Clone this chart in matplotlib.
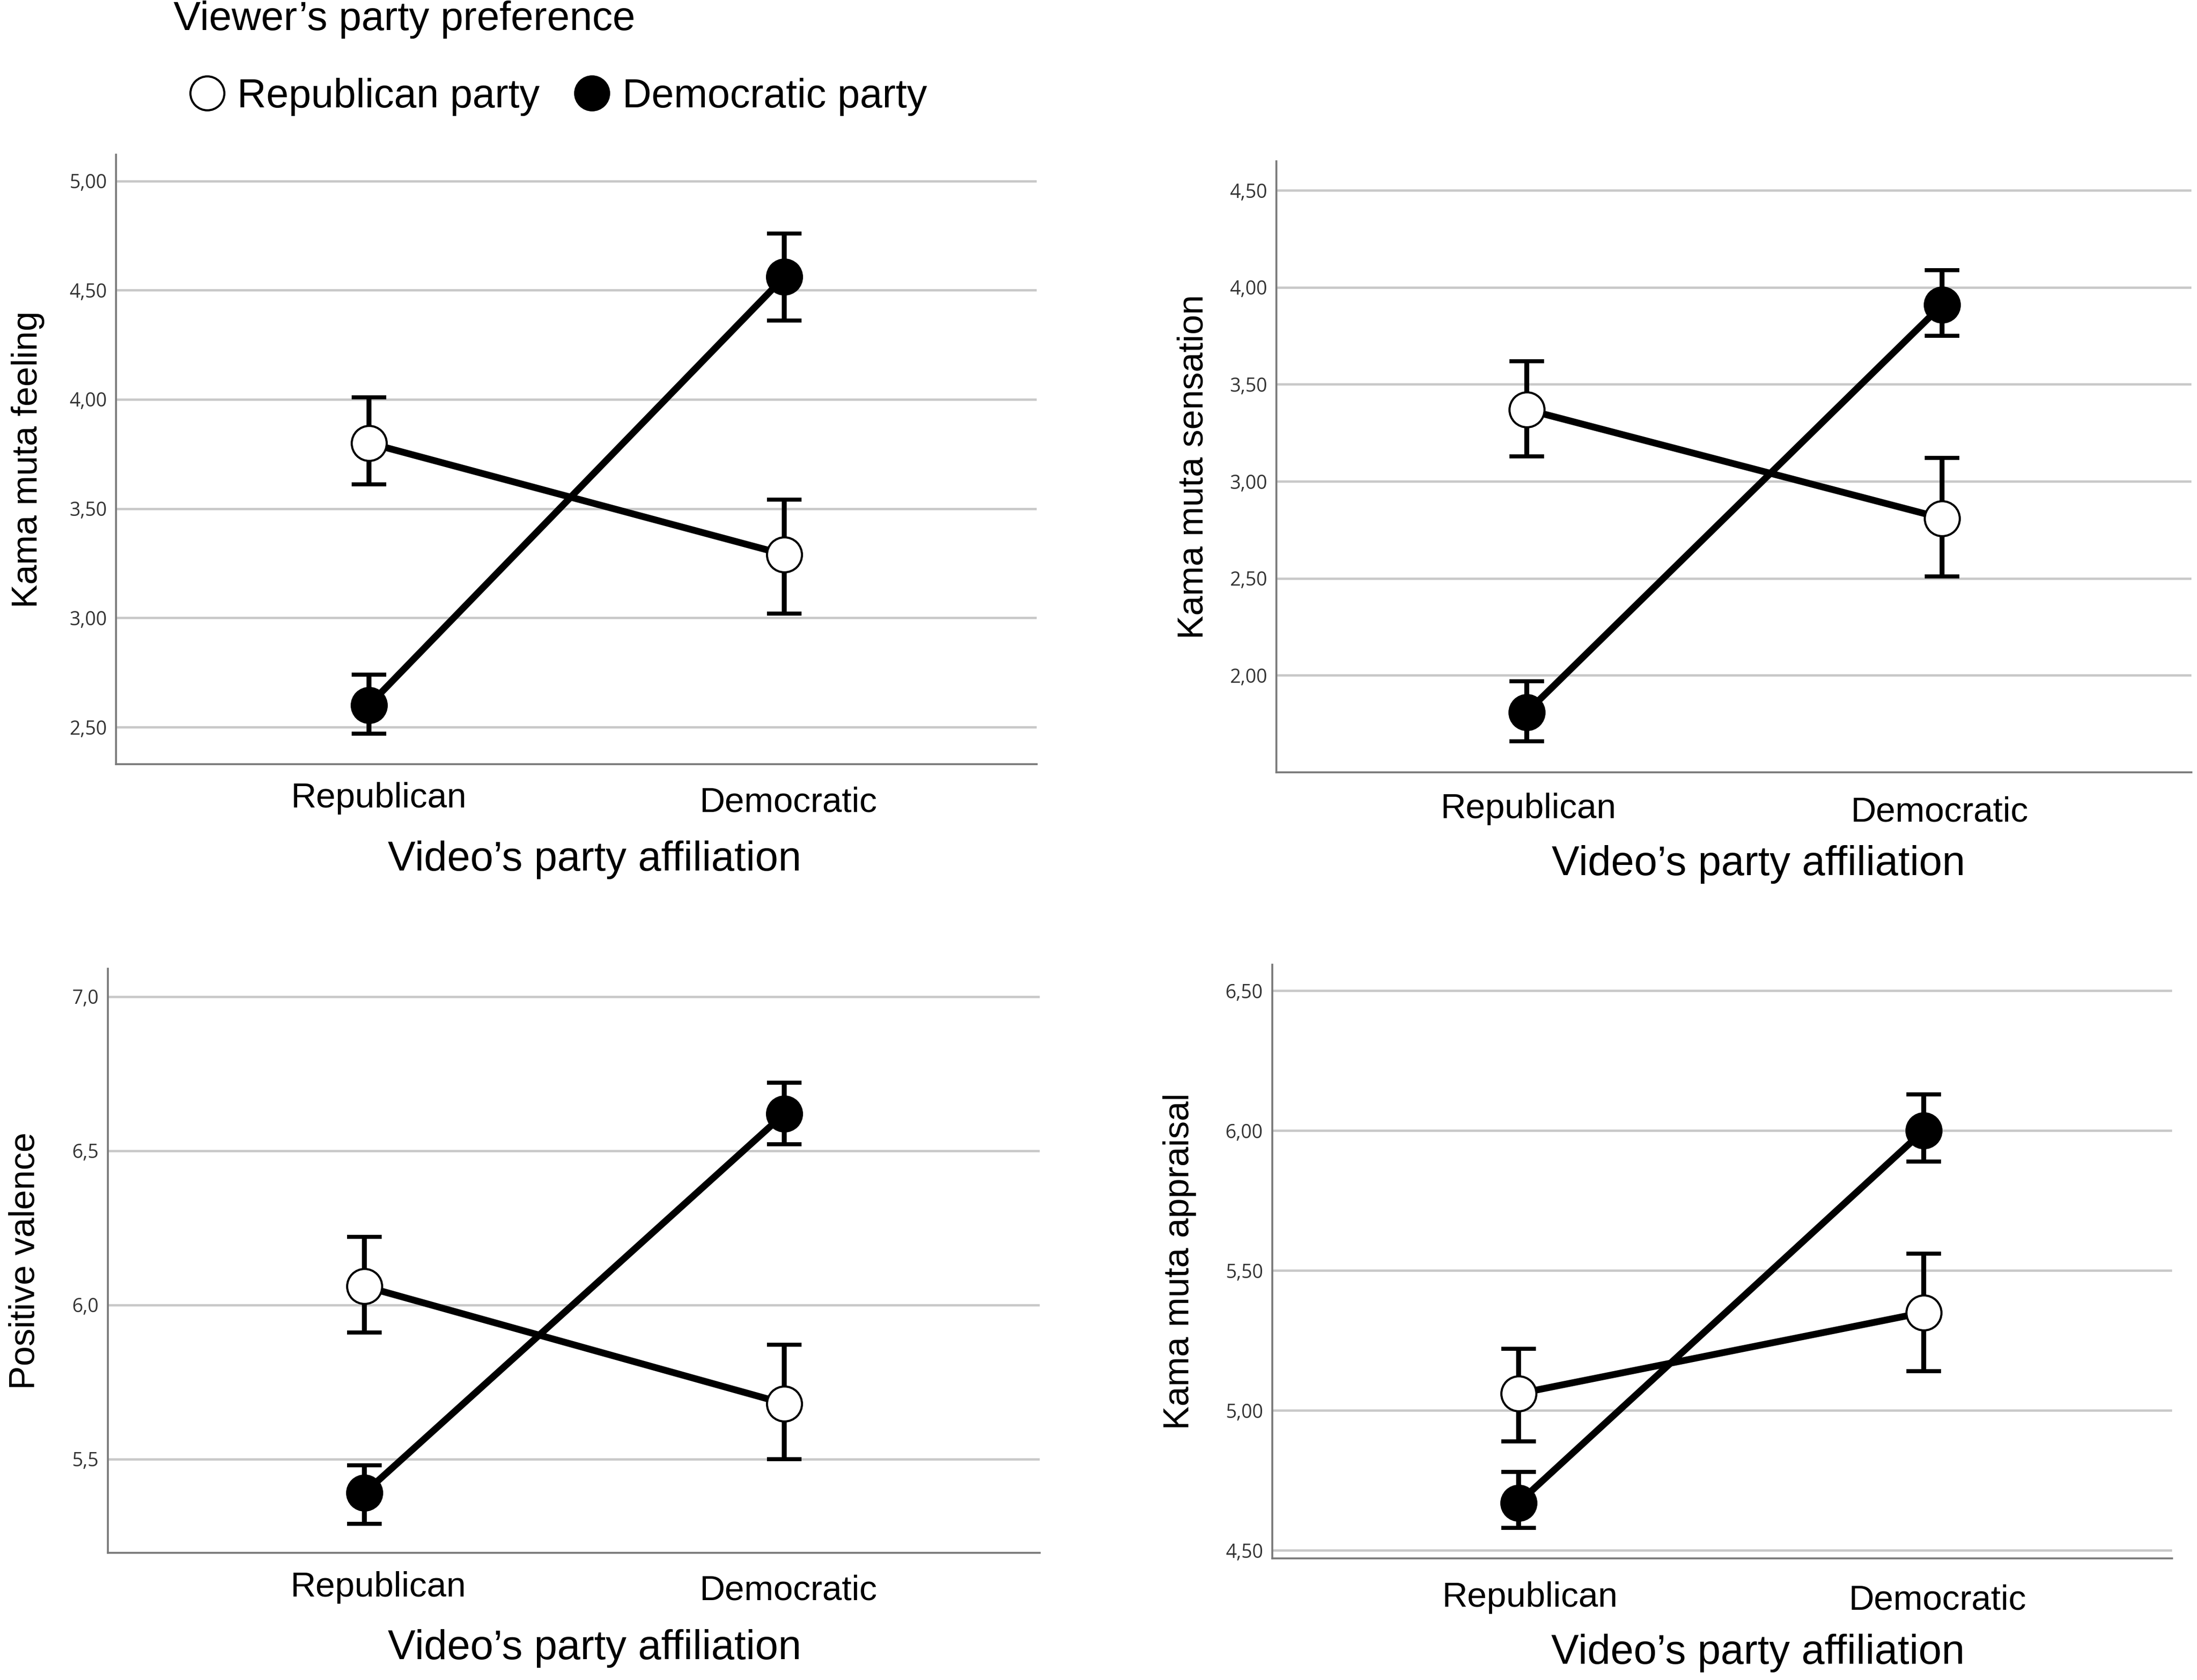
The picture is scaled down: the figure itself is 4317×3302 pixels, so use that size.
import numpy as np
import matplotlib
matplotlib.use("Agg")
import matplotlib.pyplot as plt
import matplotlib.transforms as mtransforms
from matplotlib.lines import Line2D

# ---- data ----
video_party = ["Republican", "Democratic"]
viewer_party = ["Republican party", "Democratic party"]

# Kama muta feeling
feeling_rep_mean = [3.80, 3.29]
feeling_rep_lo = [3.61, 3.02]
feeling_rep_hi = [4.01, 3.54]
feeling_dem_mean = [2.60, 4.56]
feeling_dem_lo = [2.47, 4.36]
feeling_dem_hi = [2.74, 4.76]
feeling_ticks = [2.5, 3.0, 3.5, 4.0, 4.5, 5.0]

# Kama muta sensation
sensation_rep_mean = [3.37, 2.81]
sensation_rep_lo = [3.13, 2.51]
sensation_rep_hi = [3.62, 3.12]
sensation_dem_mean = [1.81, 3.91]
sensation_dem_lo = [1.66, 3.75]
sensation_dem_hi = [1.97, 4.09]
sensation_ticks = [2.0, 2.5, 3.0, 3.5, 4.0, 4.5]

# Positive valence
valence_rep_mean = [6.06, 5.68]
valence_rep_lo = [5.91, 5.50]
valence_rep_hi = [6.22, 5.87]
valence_dem_mean = [5.39, 6.62]
valence_dem_lo = [5.29, 6.52]
valence_dem_hi = [5.48, 6.72]
valence_ticks = [5.5, 6.0, 6.5, 7.0]

# Kama muta appraisal
appraisal_rep_mean = [5.06, 5.35]
appraisal_rep_lo = [4.89, 5.14]
appraisal_rep_hi = [5.22, 5.56]
appraisal_dem_mean = [4.67, 6.00]
appraisal_dem_lo = [4.58, 5.89]
appraisal_dem_hi = [4.78, 6.13]
appraisal_ticks = [4.5, 5.0, 5.5, 6.0, 6.5]

# ---- figure layout (pixels of the 4317x3302 canvas) ----
W, H, DPI = 4317, 3302, 300
FONT = "Liberation Sans"
TICK_FONT = "Open Sans"

fig = plt.figure(figsize=(W / DPI, H / DPI), dpi=DPI)
fig.patch.set_facecolor("white")


def px_axes(x0, y0, x1, y1):
    """axes from pixel box (top-left origin)"""
    return fig.add_axes([x0 / W, (H - y1) / H, (x1 - x0) / W, (y1 - y0) / H])


def draw_panel(box, xlim, ylim, ticks, fmt, ylabel, rep, dem, ylab_x, xlab_x, xlab_y,
               tick_pad, label_shift):
    ax = px_axes(*box)
    x = np.arange(len(video_party))

    for mean, lo, hi, face in [(rep[0], rep[1], rep[2], "white"),
                               (dem[0], dem[1], dem[2], "black")]:
        mean = np.array(mean)
        err = [mean - np.array(lo), np.array(hi) - mean]
        ax.plot(x, mean, color="black", lw=3.2, solid_capstyle="butt", zorder=3)
        ax.errorbar(x, mean, yerr=err, fmt="none", ecolor="black",
                    elinewidth=2.3, capsize=8.2, capthick=1.9, zorder=4)
        ax.plot(x, mean, "o", ms=16.5, mfc=face, mec="black", mew=1.0, zorder=5)

    ax.set_xlim(*xlim)
    ax.set_ylim(*ylim)
    ax.set_yticks(ticks)
    ax.set_yticklabels([fmt.format(t).replace(".", ",") for t in ticks],
                       fontfamily=TICK_FONT, fontsize=9, color="#333333")
    ax.set_xticks(x)
    ax.set_xticklabels(video_party, fontfamily=FONT, fontsize=16.6)
    ax.tick_params(axis="both", length=0)
    ax.tick_params(axis="y", pad=4.3)
    ax.tick_params(axis="x", pad=tick_pad)
    # the category labels sit a little off the points in the original
    for lab, (dx, dy) in zip(ax.get_xticklabels(), label_shift):
        off = mtransforms.ScaledTranslation(dx / DPI, -dy / DPI, fig.dpi_scale_trans)
        lab.set_transform(lab.get_transform() + off)

    ax.grid(axis="y", color="#c8c8c8", lw=1.1)
    ax.set_axisbelow(True)
    for s in ["top", "right"]:
        ax.spines[s].set_visible(False)
    for s in ["left", "bottom"]:
        ax.spines[s].set_color("#7a7a7a")
        ax.spines[s].set_linewidth(0.9)

    ax.set_ylabel(ylabel, fontfamily=FONT, fontsize=16.8)
    ax.yaxis.label.set_va("center")
    ax.yaxis.set_label_coords(ylab_x, 0.5)
    ax.set_xlabel("Video\u2019s party affiliation", fontfamily=FONT, fontsize=19.6)
    ax.xaxis.label.set_va("center")
    ax.xaxis.set_label_coords(xlab_x, xlab_y)
    return ax


draw_panel((228, 304, 2037, 1502), (-0.609, 1.608), (2.33, 5.12), feeling_ticks, "{:.2f}",
           "Kama muta feeling",
           (feeling_rep_mean, feeling_rep_lo, feeling_rep_hi),
           (feeling_dem_mean, feeling_dem_lo, feeling_dem_hi),
           -173 / 1809, 0.52, -188 / 1198, 7.0, [(19, 6), (8, 14)])

draw_panel((2508, 317, 4306, 1518), (-0.603, 1.600), (1.50, 4.65), sensation_ticks, "{:.2f}",
           "Kama muta sensation",
           (sensation_rep_mean, sensation_rep_lo, sensation_rep_hi),
           (sensation_dem_mean, sensation_dem_lo, sensation_dem_hi),
           -162 / 1798, 0.527, -181 / 1201, 8.5, [(3, 5), (-5, 11)])

draw_panel((212, 1904, 2043, 3052), (-0.611, 1.608), (5.196, 7.09), valence_ticks, "{:.1f}",
           "Positive valence",
           (valence_rep_mean, valence_rep_lo, valence_rep_hi),
           (valence_dem_mean, valence_dem_lo, valence_dem_hi),
           -162 / 1831, 0.522, -188 / 1148, 7.5, [(27, 5), (8, 11)])

draw_panel((2500, 1896, 4268, 3063), (-0.608, 1.613), (4.471, 6.593), appraisal_ticks, "{:.2f}",
           "Kama muta appraisal",
           (appraisal_rep_mean, appraisal_rep_lo, appraisal_rep_hi),
           (appraisal_dem_mean, appraisal_dem_lo, appraisal_dem_hi),
           -182 / 1768, 0.54, -186 / 1167, 9.5, [(22, 5), (27, 11)])

# ---- legend at the top ----
fig.text(341 / W, 1 - 39 / H, "Viewer\u2019s party preference", fontfamily=FONT,
         fontsize=19.2, ha="left", va="center")
handles = [Line2D([], [], ls="none", marker="o", ms=16, mfc=c, mec="black", mew=1.0)
           for c in ["white", "black"]]
fig.legend(handles, viewer_party, loc="center left", bbox_to_anchor=(375 / W, 1 - 190 / H),
           ncol=2, frameon=False, borderpad=0, borderaxespad=0, handlelength=0.8,
           handletextpad=0.35, columnspacing=0.9, prop={"family": FONT, "size": 19})

fig.savefig("out.png", dpi=DPI, facecolor="white")
